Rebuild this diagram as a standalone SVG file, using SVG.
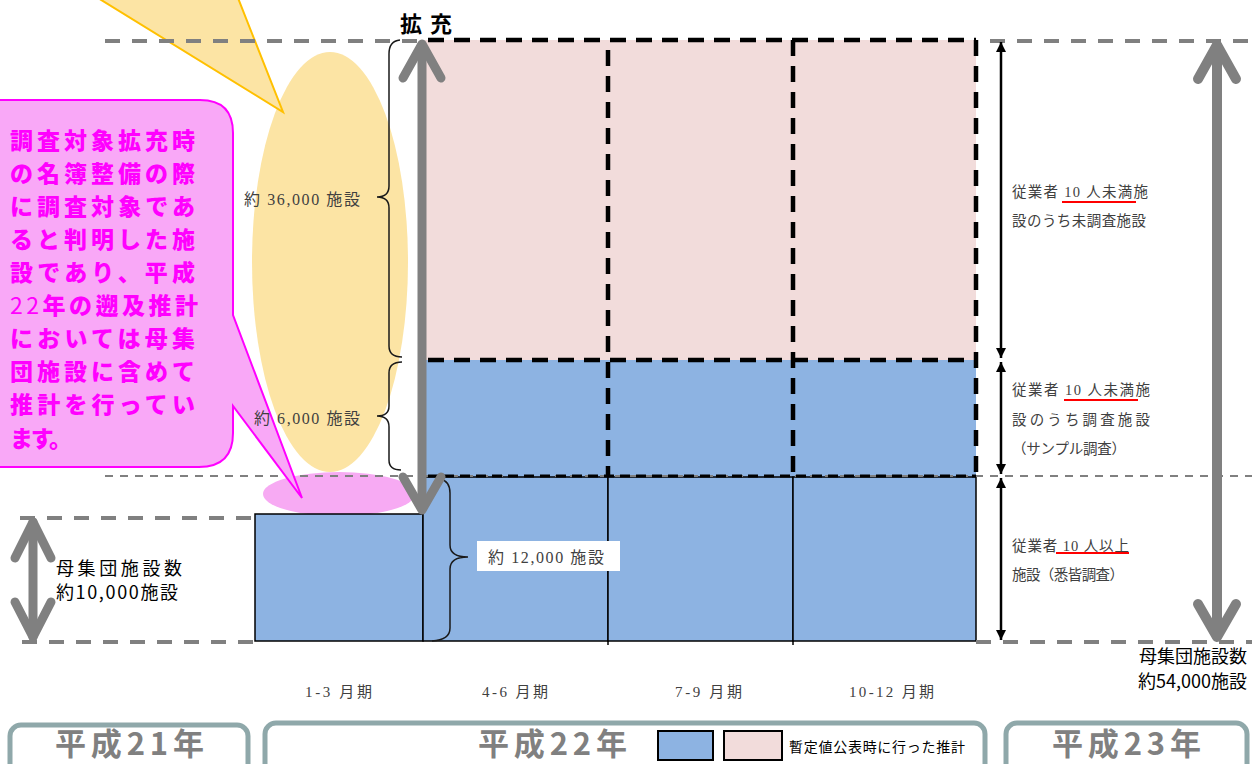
<svg xmlns="http://www.w3.org/2000/svg" width="1257" height="764" viewBox="0 0 1257 764">
<defs>
<style>
.sans{font-family:"Noto Sans CJK JP","Noto Sans",sans-serif;}
.ser{font-family:"Liberation Serif","Noto Sans CJK JP",serif;fill:#404040;}
.gdash{stroke:#808080;stroke-width:4;stroke-dasharray:15 12;fill:none;}
.gthin{stroke:#808080;stroke-width:2;stroke-dasharray:8 7;fill:none;}
.bdash{stroke:#000;stroke-width:4.5;stroke-dasharray:16 10;fill:none;}
.garrow{stroke:#808080;fill:none;stroke-linecap:round;stroke-linejoin:round;}
.brace{stroke:#1a1a1a;stroke-width:1.5;fill:none;}
.blue{fill:#8DB3E2;}
.pink{fill:#F2DCDB;}
.cell{fill:#8DB3E2;stroke:#000;stroke-width:1.5;}
.yearbox{fill:#fff;stroke:#8FA8AA;stroke-width:5;}
.year{font-family:"Noto Sans CJK JP","Noto Sans",sans-serif;font-weight:bold;fill:#808080;font-size:31px;}
.red{stroke:#FF0000;stroke-width:2;}
.blk{stroke:#000;stroke-width:2.5;}
.call{font-family:"Noto Sans CJK JP","Noto Sans",sans-serif;font-weight:900;fill:#FF00FF;font-size:23px;}
</style>
<marker id="ah" viewBox="0 0 10 10" refX="10" refY="5" markerWidth="4" markerHeight="4" orient="auto-start-reverse" markerUnits="strokeWidth">
<path d="M0,0 L10,5 L0,10 Z" fill="#000"/>
</marker>
</defs>
<rect width="1257" height="764" fill="#fff"/>

<g id="yellow-callout">
<ellipse cx="330" cy="262" rx="78" ry="210" fill="#FCE4A4"/>
<polygon points="98,-2 238,-2 283,112" fill="#FCE4A4" stroke="#FFC000" stroke-width="2"/>
</g>

<g id="pink-ellipse">
<ellipse cx="339" cy="494" rx="76" ry="22" fill="#F7AAF3"/>
</g>

<g id="expanded-region">
<rect x="425" y="40" width="551" height="320" class="pink"/>
<rect x="425" y="360" width="551" height="117" class="blue"/>
</g>

<g id="cells">
<rect x="255" y="514" width="168" height="127" class="cell"/>
<rect x="423" y="477" width="185" height="164" class="cell"/>
<rect x="608" y="477" width="185" height="164" class="cell"/>
<rect x="793" y="477" width="183" height="164" class="cell"/>
<line x1="608" y1="641" x2="608" y2="645" stroke="#000" stroke-width="1.5"/>
<line x1="793" y1="641" x2="793" y2="645" stroke="#000" stroke-width="1.5"/>
</g>

<g id="guides">
<line x1="105" y1="41" x2="425" y2="41" class="gdash"/>
<line x1="990" y1="41" x2="1252" y2="41" class="gdash"/>
<line x1="105" y1="476" x2="1252" y2="476" class="gthin"/>
<line x1="20" y1="518" x2="255" y2="518" class="gdash"/>
<line x1="22" y1="642" x2="255" y2="642" class="gdash"/>
<line x1="976" y1="642" x2="1252" y2="642" class="gdash"/>
</g>

<g id="dashed-borders">
<line x1="428" y1="40" x2="976" y2="40" class="bdash"/>
<line x1="976" y1="40" x2="976" y2="476" class="bdash"/>
<line x1="428" y1="360" x2="976" y2="360" class="bdash"/>
<line x1="608" y1="50" x2="608" y2="476" class="bdash"/>
<line x1="793" y1="40" x2="793" y2="476" class="bdash"/>
<line x1="428" y1="476" x2="976" y2="476" stroke="#000" stroke-width="3" stroke-dasharray="10 6"/>
</g>

<g id="pink-callout">
<path d="M-10,100 L200,100 Q233,100 233,133 L233,315 L302,498 L233,406 L233,433 Q233,467 199,467 L-10,467 Z" fill="#F9A8F7" stroke="#FF00FF" stroke-width="2"/>
<text class="call" x="10" y="149" textLength="185" lengthAdjust="spacing">調査対象拡充時</text>
<text class="call" x="10" y="182" textLength="185" lengthAdjust="spacing">の名簿整備の際</text>
<text class="call" x="10" y="215" textLength="185" lengthAdjust="spacing">に調査対象であ</text>
<text class="call" x="10" y="248" textLength="185" lengthAdjust="spacing">ると判明した施</text>
<text class="call" x="10" y="281" textLength="185" lengthAdjust="spacing">設であり、平成</text>
<text class="call" x="10" y="314" textLength="188" lengthAdjust="spacing"><tspan font-weight="normal">22</tspan>年の遡及推計</text>
<text class="call" x="10" y="347" textLength="185" lengthAdjust="spacing">においては母集</text>
<text class="call" x="10" y="380" textLength="185" lengthAdjust="spacing">団施設に含めて</text>
<text class="call" x="10" y="413" textLength="185" lengthAdjust="spacing">推計を行ってい</text>
<text class="call" x="10" y="447" textLength="62" lengthAdjust="spacing">ます。</text>
</g>

<g id="brace-36000">
<path class="brace" d="M400,40 Q389,41 389,54 L389,186 Q389,197 377,197 Q389,197 389,208 L389,346 Q389,357 402,357"/>
<text class="ser" x="244" y="205" font-size="16" textLength="116" lengthAdjust="spacing">約 36,000 施設</text>
</g>
<g id="brace-6000">
<path class="brace" d="M402,362 Q389,362 389,373 L389,406 Q389,416 377,416 Q389,416 389,427 L389,460 Q389,470 401,470"/>
<text class="ser" x="254" y="424" font-size="16" textLength="106" lengthAdjust="spacing">約 6,000 施設</text>
</g>
<g id="brace-12000">
<path class="brace" d="M440,479 Q450,481 450,493 L450,545 Q450,557 468,557 Q450,557 450,569 L450,628 Q450,640 432,641"/>
<rect x="477" y="541" width="143" height="30" fill="#fff"/>
<text class="ser" x="488" y="563" font-size="16" textLength="116" lengthAdjust="spacing">約 12,000 施設</text>
</g>

<g id="connectors">
<g class="garrow" stroke-width="9">
<line x1="422" y1="46" x2="422" y2="508"/>
<path d="M403,78 L422,44 L441,78"/>
<path d="M403,477 L422,510 L441,477"/>
</g>
<g class="garrow" stroke-width="9">
<line x1="33" y1="522" x2="33" y2="637"/>
<path d="M15,558 L33,522 L51,558"/>
<path d="M15,602 L33,637 L51,602"/>
</g>
<g class="garrow" stroke-width="10">
<line x1="1217" y1="46" x2="1217" y2="636"/>
<path d="M1198,79 L1217,45 L1236,79"/>
<path d="M1198,604 L1217,637 L1236,604"/>
</g>
<line class="blk" x1="1001" y1="42" x2="1001" y2="358" marker-start="url(#ah)" marker-end="url(#ah)"/>
<line class="blk" x1="1001" y1="362" x2="1001" y2="474" marker-start="url(#ah)" marker-end="url(#ah)"/>
<line class="blk" x1="1001" y1="478" x2="1001" y2="640" marker-start="url(#ah)" marker-end="url(#ah)"/>
</g>

<g id="label-kakuju">
<text class="sans" x="400" y="32" font-size="22" font-weight="bold" fill="#000" textLength="52" lengthAdjust="spacing">拡充</text>
</g>

<g id="desc-unsurveyed">
<text class="ser" x="1012" y="197" font-size="14.5" textLength="136" lengthAdjust="spacing">従業者 10 人未満施</text>
<line class="red" x1="1062" y1="202" x2="1136" y2="202"/>
<text class="ser" x="1012" y="226" font-size="14.5" textLength="134" lengthAdjust="spacing">設のうち未調査施設</text>
</g>
<g id="desc-sample">
<text class="ser" x="1012" y="395" font-size="14.5" textLength="138" lengthAdjust="spacing">従業者 10 人未満施</text>
<line class="red" x1="1064" y1="400" x2="1138" y2="400"/>
<text class="ser" x="1012" y="425" font-size="14.5" textLength="138" lengthAdjust="spacing">設 の う ち 調 査 施 設</text>
<text class="ser" x="1012" y="454" font-size="14.5" textLength="114" lengthAdjust="spacing">（サンプル調査）</text>
</g>
<g id="desc-census">
<text class="ser" x="1012" y="551" font-size="14.5" textLength="117" lengthAdjust="spacing">従業者 10 人以上</text>
<line class="red" x1="1056" y1="553" x2="1129" y2="553"/>
<text class="ser" x="1012" y="580" font-size="14.5" textLength="112" lengthAdjust="spacing">施設（悉皆調査）</text>
</g>

<g id="label-pop-54000">
<text class="sans" x="1247" y="663" font-size="18" fill="#000" text-anchor="end">母集団施設数</text>
<text class="sans" x="1247" y="688" font-size="18" fill="#000" text-anchor="end">約54,000施設</text>
</g>
<g id="label-pop-10000">
<text class="sans" x="56" y="575" font-size="18" fill="#000" textLength="126" lengthAdjust="spacing">母集団施設数</text>
<text class="sans" x="56" y="599" font-size="18" fill="#000" textLength="122" lengthAdjust="spacing">約10,000施設</text>
</g>

<g id="periods">
<text class="ser" x="305" y="697" font-size="15" fill="#1a1a1a" textLength="67" lengthAdjust="spacing">1-3 月期</text>
<text class="ser" x="482" y="697" font-size="15" fill="#1a1a1a" textLength="66" lengthAdjust="spacing">4-6 月期</text>
<text class="ser" x="675" y="697" font-size="15" fill="#1a1a1a" textLength="67" lengthAdjust="spacing">7-9 月期</text>
<text class="ser" x="849" y="697" font-size="15" fill="#1a1a1a" textLength="85" lengthAdjust="spacing">10-12 月期</text>
</g>

<g id="year-h21">
<rect class="yearbox" x="10" y="725" width="238" height="60" rx="11"/>
<text class="year" x="55" y="755" textLength="149" lengthAdjust="spacing">平成21年</text>
</g>
<g id="year-h22">
<rect class="yearbox" x="265" y="723" width="720" height="60" rx="11"/>
<text class="year" x="478" y="755" textLength="149" lengthAdjust="spacing">平成22年</text>
</g>
<g id="year-h23">
<rect class="yearbox" x="1006" y="723" width="241" height="60" rx="11"/>
<text class="year" x="1052" y="755" textLength="149" lengthAdjust="spacing">平成23年</text>
</g>

<g id="legend">
<rect x="658" y="731" width="55" height="29" fill="#8DB3E2" stroke="#000" stroke-width="2"/>
<rect x="724" y="731" width="58" height="29" fill="#F2DCDB" stroke="#000" stroke-width="2"/>
<text class="sans" x="789" y="752" font-size="14" fill="#000" textLength="176" lengthAdjust="spacing">暫定値公表時に行った推計</text>
</g>
</svg>
